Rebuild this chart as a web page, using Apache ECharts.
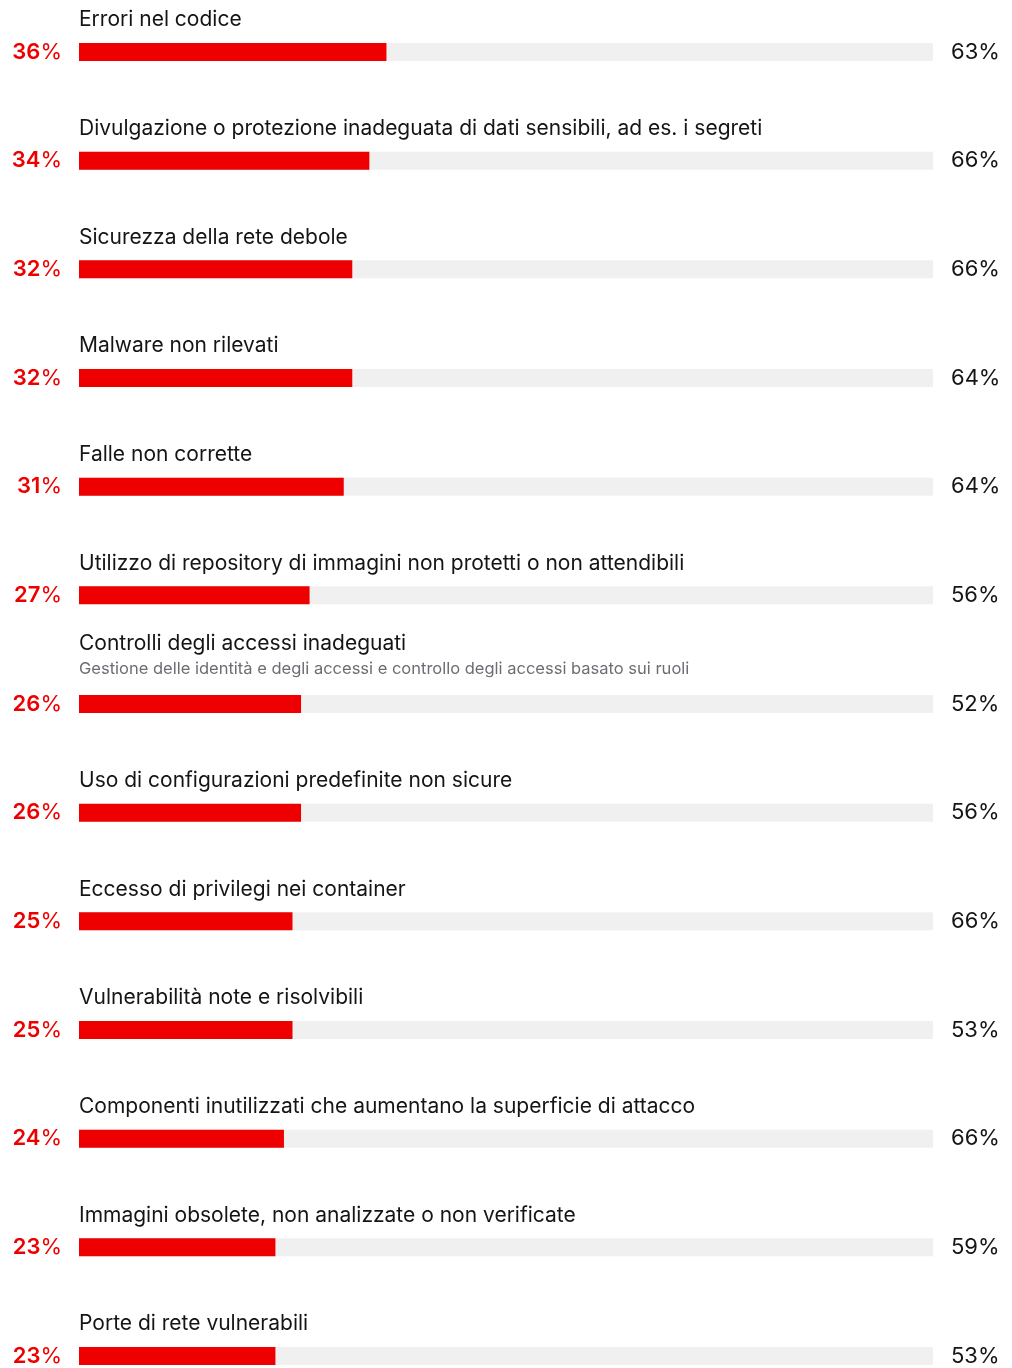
<!DOCTYPE html>
<html>
<head>
<meta charset="utf-8">
<script src="https://cdn.jsdelivr.net/npm/echarts@6/dist/echarts.min.js"></script>
<style>
  html, body { margin: 0; padding: 0; background: #ffffff; }
  #chart { width: 1012px; height: 1368px; }
</style>
</head>
<body>
<div id="chart"></div>
<script>
// Security issues: share in the primary series and the comparison value on the right
const categories = [
  'Errori nel codice',
  'Divulgazione o protezione inadeguata di dati sensibili, ad es. i segreti',
  'Sicurezza della rete debole',
  'Malware non rilevati',
  'Falle non corrette',
  'Utilizzo di repository di immagini non protetti o non attendibili',
  'Controlli degli accessi inadeguati',
  'Uso di configurazioni predefinite non sicure',
  'Eccesso di privilegi nei container',
  'Vulnerabilità note e risolvibili',
  'Componenti inutilizzati che aumentano la superficie di attacco',
  'Immagini obsolete, non analizzate o non verificate',
  'Porte di rete vulnerabili'
];
const subtitles = [
  '', '', '', '', '', '',
  'Gestione delle identità e degli accessi e controllo degli accessi basato sui ruoli',
  '', '', '', '', '', ''
];
const primaryValues = [36, 34, 32, 32, 31, 27, 26, 26, 25, 25, 24, 23, 23];
const secondaryValues = [63, 66, 66, 64, 64, 56, 52, 56, 66, 53, 66, 59, 53];
const fullScale = 100;

const FONT = 'Inter, "Noto Sans", sans-serif';
const RED = '#ee0000';
const INK = '#151515';

const chart = echarts.init(document.getElementById('chart'), null, { renderer: 'canvas' });

// Gray track: one full-width bar per row, carries the title and the right-hand value
const trackData = categories.map((name, i) => {
  const hasSub = subtitles[i] !== '';
  return {
    value: fullScale,
    label: hasSub
      ? { position: [0, -64], verticalAlign: 'top' }
      : { position: [0, -23], verticalAlign: 'middle' }
  };
});

chart.setOption({
  animation: false,
  // rows sit on the category points, first and last at the grid edges
  grid: { left: 79, right: 79, top: 52, height: 1304, containLabel: false },
  xAxis: { type: 'value', min: 0, max: fullScale, show: false },
  yAxis: {
    type: 'category',
    data: categories,
    inverse: true,
    boundaryGap: false,
    show: false
  },
  series: [
    {
      type: 'bar',
      data: trackData,
      barWidth: 18,
      barGap: '-100%',
      silent: true,
      itemStyle: { color: '#f0f0f0' },
      label: {
        show: true,
        align: 'left',
        fontFamily: FONT,
        formatter: p => {
          const sub = subtitles[p.dataIndex];
          return sub ? '{t|' + p.name + '}\n{s|' + sub + '}' : '{t|' + p.name + '}';
        },
        rich: {
          t: { fontFamily: FONT, fontSize: 21, color: INK, lineHeight: 26 },
          s: { fontFamily: FONT, fontSize: 16.5, color: '#6a6e73', lineHeight: 24 }
        }
      },
      z: 1
    },
    {
      // right-hand comparison value, drawn at the end of the track
      type: 'bar',
      data: secondaryValues.map(() => fullScale),
      barWidth: 18,
      barGap: '-100%',
      silent: true,
      itemStyle: { color: 'transparent' },
      label: {
        show: true,
        position: 'right',
        distance: 18,
        formatter: p => secondaryValues[p.dataIndex] + '%',
        fontFamily: FONT,
        fontSize: 22,
        color: INK
      },
      z: 2
    },
    {
      type: 'bar',
      data: primaryValues,
      barWidth: 18,
      barGap: '-100%',
      silent: true,
      itemStyle: { color: RED },
      label: {
        show: true,
        position: [-17, 9],
        align: 'right',
        verticalAlign: 'middle',
        formatter: '{n|{c}}{p|%}',
        rich: {
          n: { fontFamily: FONT, fontSize: 22, fontWeight: 600, color: RED },
          p: { fontFamily: FONT, fontSize: 22, fontWeight: 'normal', color: RED }
        }
      },
      z: 3
    }
  ]
});
</script>
</body>
</html>
